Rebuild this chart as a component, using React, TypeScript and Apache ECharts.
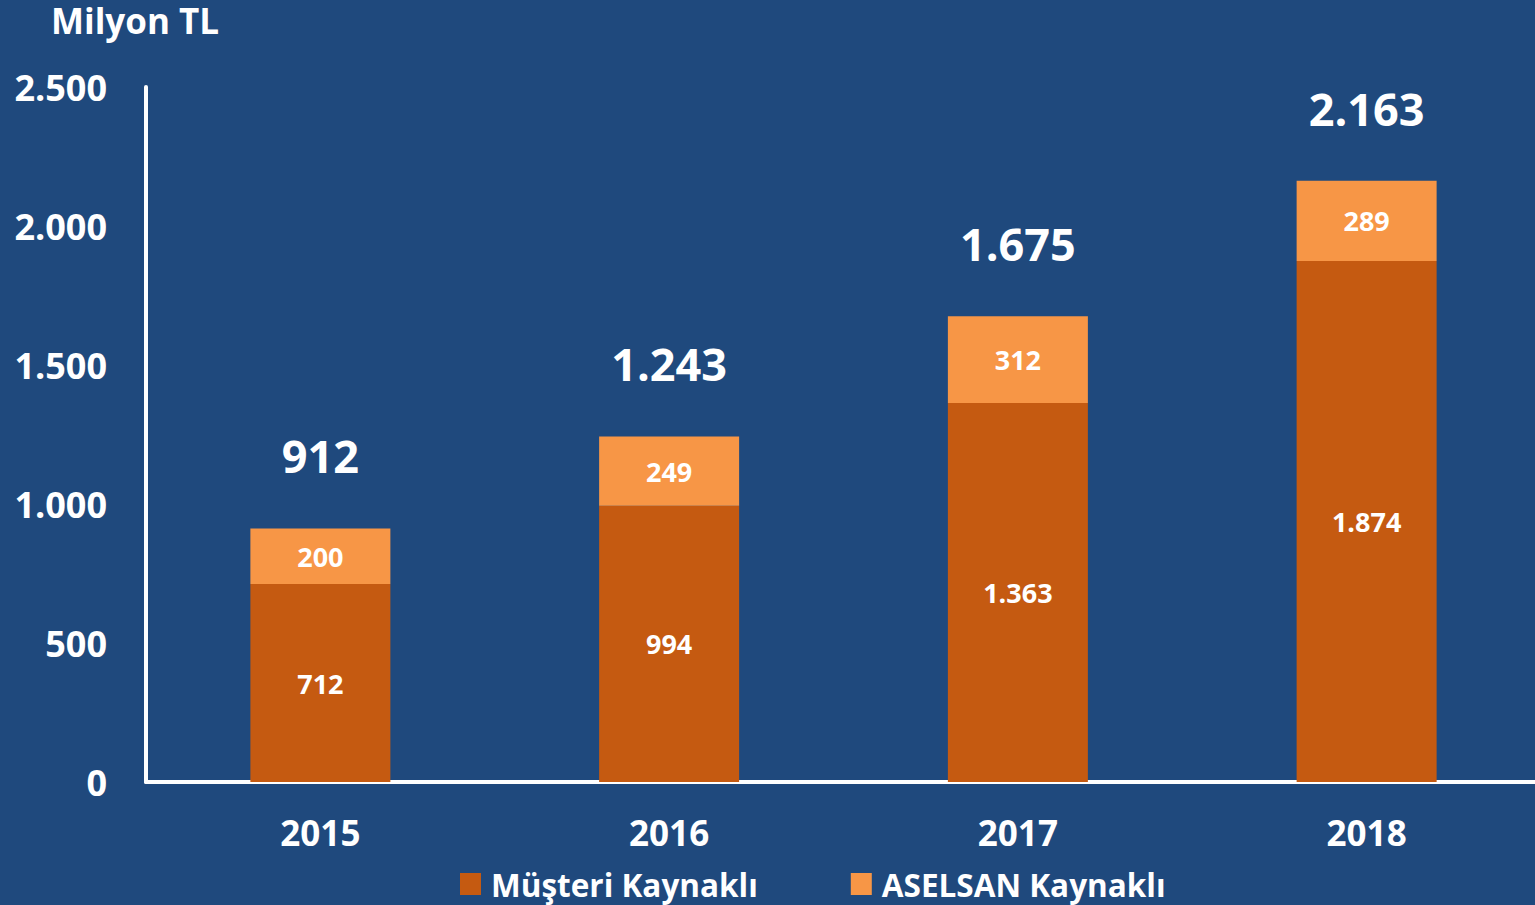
import React, { useEffect, useRef } from "react";
import * as echarts from "echarts";

const categories = ["2015", "2016", "2017", "2018"];
const musteri = [712, 994, 1363, 1874];
const aselsan = [200, 249, 312, 289];
const totals = [912, 1243, 1675, 2163];
const seriesNames = ["Müşteri Kaynaklı", "ASELSAN Kaynaklı"];
const unitLabel = "Milyon TL";

const fmt = (v: number) => String(v).replace(/\B(?=(\d{3})+(?!\d))/g, ".");
const FONT = "'Open Sans', 'Noto Sans', sans-serif";

export default function App() {
  const ref = useRef<HTMLDivElement>(null);
  useEffect(() => {
    if (!ref.current) return;
    const chart = echarts.init(ref.current, null, { renderer: "svg" });
    chart.setOption({
      animation: false,
      backgroundColor: "#1F497D",
      textStyle: { fontFamily: FONT },
      title: {
        text: unitLabel,
        left: 51,
        top: 0,
        padding: 0,
        textStyle: { color: "#fff", fontSize: 35, lineHeight: 40, fontWeight: "bold", fontFamily: FONT },
      },
      legend: {
        data: seriesNames,
        left: 460,
        top: 867,
        padding: 0,
        itemWidth: 21,
        itemHeight: 22,
        itemGap: 93,
        icon: "rect",
        textStyle: {
          color: "#fff",
          fontSize: 31.5,
          lineHeight: 34,
          fontWeight: "bold",
          fontFamily: FONT,
          padding: [0, 0, 0, 5],
        },
      },
      grid: {
        left: 146,
        width: 1395,
        top: 87,
        bottom: 123,
        containLabel: false,
        outerBoundsMode: "none",
      },
      xAxis: {
        type: "category",
        data: categories,
        axisLine: { show: true, lineStyle: { color: "#fff", width: 4 } },
        axisTick: { show: false },
        axisLabel: { color: "#fff", fontSize: 35, fontWeight: "bold", margin: 33, fontFamily: FONT },
      },
      yAxis: {
        type: "value",
        min: 0,
        max: 2500,
        interval: 500,
        axisLine: { show: true, lineStyle: { color: "#fff", width: 4 } },
        axisTick: { show: false },
        splitLine: { show: false },
        axisLabel: {
          color: "#fff",
          fontSize: 36,
          fontWeight: "bold",
          margin: 39,
          fontFamily: FONT,
          formatter: (v: number) => fmt(v),
        },
      },
      series: [
        {
          name: seriesNames[0],
          type: "bar",
          stack: "a",
          barWidth: 140,
          data: musteri,
          itemStyle: { color: "#C55A11" },
          label: {
            show: true,
            position: "inside",
            color: "#fff",
            fontSize: 27,
            fontWeight: "bold",
            fontFamily: FONT,
            formatter: (p: any) => fmt(p.value),
          },
        },
        {
          name: seriesNames[1],
          type: "bar",
          stack: "a",
          barWidth: 140,
          data: aselsan,
          itemStyle: { color: "#F79646" },
          label: {
            show: true,
            position: "inside",
            color: "#fff",
            fontSize: 27,
            fontWeight: "bold",
            fontFamily: FONT,
            formatter: (p: any) => fmt(p.value),
          },
        },
        {
          name: "Toplam",
          type: "bar",
          stack: "a",
          barWidth: 140,
          data: totals.map(() => 0),
          itemStyle: { color: "transparent" },
          label: {
            show: true,
            position: "top",
            distance: 50,
            color: "#fff",
            fontSize: 45,
            fontWeight: "bold",
            fontFamily: FONT,
            formatter: (p: any) => fmt(totals[p.dataIndex]),
          },
        },
      ],
    });
    return () => chart.dispose();
  }, []);
  return (
    <div
      ref={ref}
      style={{ position: "fixed", left: 0, top: 0, width: 1535, height: 905, overflow: "hidden" }}
    />
  );
}
